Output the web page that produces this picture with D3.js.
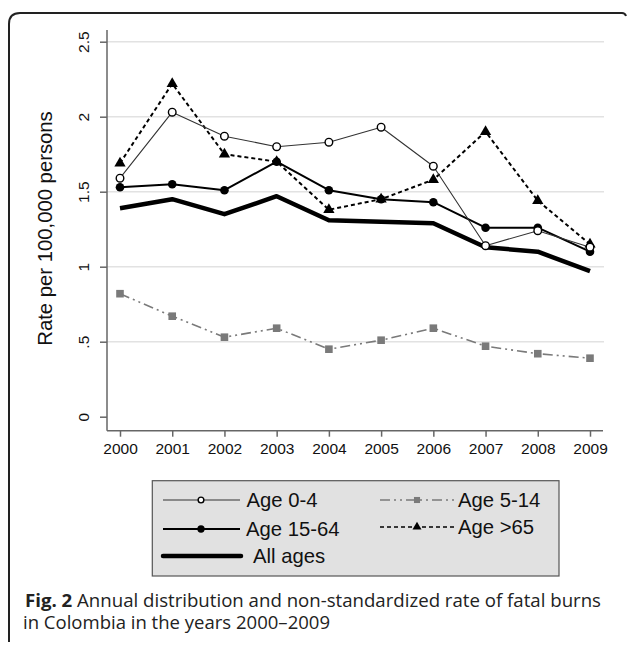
<!DOCTYPE html>
<html>
<head>
<meta charset="utf-8">
<script src="https://cdn.jsdelivr.net/npm/d3@7"></script>
<style>
  html, body { margin: 0; padding: 0; background: #fff; }
  svg { display: block; }
</style>
</head>
<body>
<svg id="chart" width="627" height="645"></svg>
<script>
// Years on the x axis
const years = [2000, 2001, 2002, 2003, 2004, 2005, 2006, 2007, 2008, 2009];

// Rate per 100,000 persons, by age group
const age0to4   = [1.59, 2.03, 1.87, 1.80, 1.83, 1.93, 1.67, 1.14, 1.24, 1.13];
const age5to14  = [0.82, 0.67, 0.53, 0.59, 0.45, 0.51, 0.59, 0.47, 0.42, 0.39];
const age15to64 = [1.53, 1.55, 1.51, 1.70, 1.51, 1.45, 1.43, 1.26, 1.26, 1.10];
const ageOver65 = [1.69, 2.22, 1.75, 1.70, 1.38, 1.45, 1.58, 1.90, 1.44, 1.15];
const allAges   = [1.39, 1.45, 1.35, 1.47, 1.31, 1.30, 1.29, 1.13, 1.10, 0.97];

// Y axis ticks and their labels
const yTicks = [0, 0.5, 1, 1.5, 2, 2.5];
const yTickLabels = ["0", ".5", "1", "1.5", "2", "2.5"];

const svg = d3.select("#chart");
const FONT = "'Liberation Sans', Arial, sans-serif";

// Outer figure frame (rounded top-left corner)
svg.append("path")
  .attr("d", "M9,642 L9,24 Q9,13 20,13 L622,13 Q625,13 626,16")
  .attr("fill", "none").attr("stroke", "#222").attr("stroke-width", 2);

const x = d3.scaleLinear().domain([2000, 2009]).range([120, 590]);
const y = d3.scaleLinear().domain([0, 2.5]).range([416.7, 41.7]);
const plotLeft = 107, plotRight = 604, axisY = 430.7;

// Horizontal grid lines
svg.append("g").selectAll("line")
  .data(yTicks.filter(d => d > 0))
  .join("line")
  .attr("x1", plotLeft).attr("x2", plotRight)
  .attr("y1", d => y(d)).attr("y2", d => y(d))
  .attr("stroke", "#e2e2e2").attr("stroke-width", 1.5);

// Y axis with vertical tick labels
const yAxis = d3.axisLeft(y).tickValues(yTicks)
  .tickFormat((d, i) => yTickLabels[i]).tickSize(7);
const gy = svg.append("g").attr("transform", `translate(${plotLeft},0)`).call(yAxis);
gy.select(".domain").remove();
gy.append("line").attr("x1", 0).attr("x2", 0).attr("y1", 30).attr("y2", axisY)
  .attr("stroke", "#666").attr("stroke-width", 1.5);
gy.selectAll(".tick line").attr("stroke", "#666").attr("stroke-width", 1.5);
gy.selectAll(".tick text")
  .attr("font-family", FONT).attr("font-size", 15.5).attr("fill", "#111")
  .attr("text-anchor", "middle").attr("dy", 0)
  .attr("x", 0).attr("y", 0)
  .attr("transform", "translate(-17.7,0) rotate(-90)");

// X axis
const xAxis = d3.axisBottom(x).tickValues(years).tickFormat(d3.format("d")).tickSize(6).tickPadding(6);
const gx = svg.append("g").attr("transform", `translate(0,${axisY})`).call(xAxis);
gx.select(".domain").remove();
gx.append("line").attr("x1", plotLeft).attr("x2", 603).attr("y1", 0).attr("y2", 0)
  .attr("stroke", "#666").attr("stroke-width", 1.5);
gx.selectAll(".tick line").attr("stroke", "#666").attr("stroke-width", 1.5);
gx.selectAll(".tick text")
  .attr("font-family", FONT).attr("font-size", 15.5).attr("fill", "#111");

// Y axis title
svg.append("text")
  .attr("transform", "translate(51.5,228.5) rotate(-90)")
  .attr("text-anchor", "middle")
  .attr("font-family", FONT).attr("font-size", 20.3).attr("fill", "#111")
  .text("Rate per 100,000 persons");

// Series definitions (first drawn lies underneath)
const series = [
  { name: "All ages", values: allAges, color: "#000", width: 4.5, dash: null, marker: null },
  { name: "Age 5-14", values: age5to14, color: "#7a7a7a", width: 1.6, dash: "10,4,2,4,2,4", marker: "square" },
  { name: "Age >65", values: ageOver65, color: "#000", width: 2, dash: "4,3", marker: "triangle" },
  { name: "Age 15-64", values: age15to64, color: "#000", width: 2, dash: null, marker: "dot" },
  { name: "Age 0-4", values: age0to4, color: "#333", width: 1.1, dash: null, marker: "circle" }
];

const line = d3.line().x((d, i) => x(years[i])).y(d => y(d));

function drawMarker(g, type, cx, cy, scale) {
  const s = scale || 1;
  if (type === "circle") {
    g.append("circle").attr("cx", cx).attr("cy", cy).attr("r", 3.8 * s)
      .attr("fill", "#fff").attr("stroke", "#000").attr("stroke-width", 1.4);
  } else if (type === "dot") {
    g.append("circle").attr("cx", cx).attr("cy", cy).attr("r", 4.3 * s).attr("fill", "#000");
  } else if (type === "square") {
    const h = 3.8 * s;
    g.append("rect").attr("x", cx - h).attr("y", cy - h).attr("width", 2 * h).attr("height", 2 * h)
      .attr("fill", "#7a7a7a");
  } else if (type === "triangle") {
    g.append("path")
      .attr("d", d3.symbol().type(d3.symbolTriangle).size(55 * s * s)())
      .attr("transform", `translate(${cx},${cy})`).attr("fill", "#000");
  }
}

series.forEach(s => {
  const g = svg.append("g");
  g.append("path").datum(s.values)
    .attr("d", line).attr("fill", "none")
    .attr("stroke", s.color).attr("stroke-width", s.width)
    .attr("stroke-dasharray", s.dash).attr("stroke-linejoin", "round");
  if (s.marker) {
    s.values.forEach((v, i) => drawMarker(g, s.marker, x(years[i]), y(v), 1));
  }
});

// Legend
const legend = svg.append("g");
legend.append("rect").attr("x", 152.3).attr("y", 480.7).attr("width", 406.7).attr("height", 95.3)
  .attr("fill", "#e1e1e1").attr("stroke", "#555").attr("stroke-width", 1.2);

const legendItems = [
  { name: "Age 0-4", x0: 163, x1: 240, mx: 201, cy: 500, tx: 246.5, color: "#333", width: 1.1, dash: null, marker: "circle", ms: 0.75 },
  { name: "Age 15-64", x0: 163, x1: 240, mx: 201, cy: 529, tx: 246, color: "#000", width: 2, dash: null, marker: "dot", ms: 0.85 },
  { name: "All ages", x0: 163, x1: 241, mx: null, cy: 556, tx: 253, color: "#000", width: 4.5, dash: null, marker: null, ms: 1 },
  { name: "Age 5-14", x0: 380, x1: 455, mx: 417, cy: 500, tx: 458, color: "#7a7a7a", width: 1.6, dash: "10,4,2,4,2,4", marker: "square", ms: 0.8 },
  { name: "Age >65", x0: 380, x1: 455, mx: 417, cy: 527, tx: 458, color: "#000", width: 1.6, dash: "4,3", marker: "triangle", ms: 0.8 }
];

legendItems.forEach(it => {
  legend.append("line").attr("x1", it.x0).attr("x2", it.x1).attr("y1", it.cy).attr("y2", it.cy)
    .attr("stroke", it.color).attr("stroke-width", it.width).attr("stroke-dasharray", it.dash)
    .attr("stroke-linecap", it.marker ? "butt" : "round");
  if (it.marker) drawMarker(legend, it.marker, it.mx, it.cy, it.ms);
  legend.append("text").attr("x", it.tx).attr("y", it.cy + 7.2)
    .attr("font-family", FONT).attr("font-size", 20.3).attr("fill", "#111")
    .text(it.name);
});

// Figure caption
const CAP = "'Open Sans', 'Noto Sans', sans-serif";
const cap1 = svg.append("text").attr("x", 25).attr("y", 607)
  .attr("font-family", CAP).attr("font-size", 18).attr("fill", "#222")
  .attr("textLength", 576).attr("lengthAdjust", "spacingAndGlyphs");
cap1.append("tspan").attr("font-weight", "bold").text("Fig. 2");
cap1.append("tspan").text(" Annual distribution and non-standardized rate of fatal burns");

svg.append("text").attr("x", 23).attr("y", 629)
  .attr("font-family", CAP).attr("font-size", 18).attr("fill", "#222")
  .attr("textLength", 307).attr("lengthAdjust", "spacingAndGlyphs")
  .text("in Colombia in the years 2000–2009");
</script>
</body>
</html>
